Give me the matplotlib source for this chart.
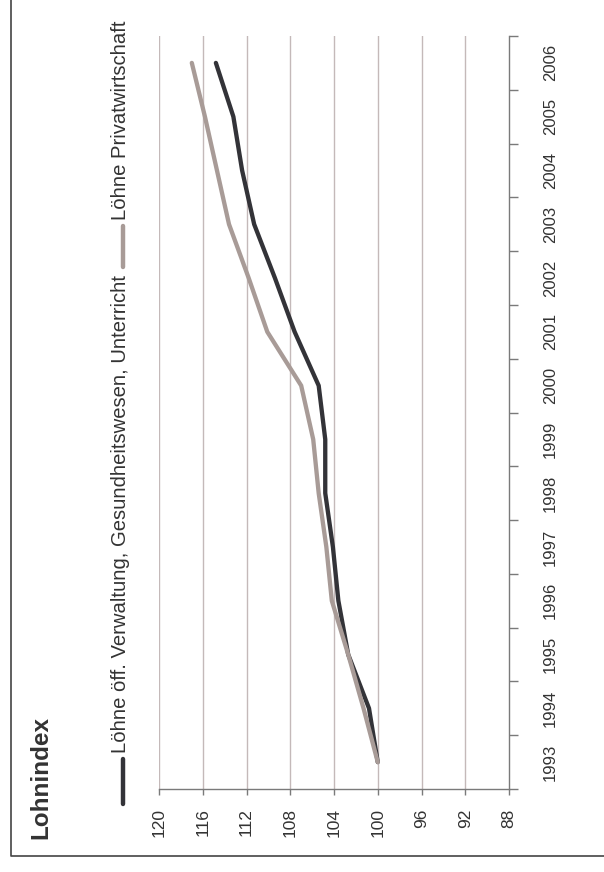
import matplotlib
matplotlib.use("Agg")
import matplotlib.pyplot as plt
import numpy as np
from matplotlib.lines import Line2D
from matplotlib.ticker import FixedLocator, NullFormatter

# Wage index, 1993 = 100
years = [1993, 1994, 1995, 1996, 1997, 1998, 1999,
         2000, 2001, 2002, 2003, 2004, 2005, 2006]
oeff = [100.0, 100.8, 102.7, 103.6, 104.1, 104.8, 104.8,
        105.4, 107.6, 109.4, 111.3, 112.4, 113.2, 114.8]
privat = [100.0, 101.3, 102.7, 104.2, 104.7, 105.4, 105.9,
          107.0, 110.1, 111.8, 113.6, 114.7, 115.8, 117.0]
value_ticks = [120, 116, 112, 108, 104, 100, 96, 92, 88]

title = "Lohnindex"
label_oeff = "Löhne öff. Verwaltung, Gesundheitswesen, Unterricht"
label_privat = "Löhne Privatwirtschaft"

DARK = "#333338"
GREY = "#a89b97"
GRID = "#c4b9b9"
AXIS = "#7a7a7a"
TEXT = "#333333"

W, H = 604, 872
plt.rcParams["font.family"] = ["Liberation Sans", "DejaVu Sans"]

fig = plt.figure(figsize=(W / 100, H / 100), dpi=100)


def fx(px):
    return px / W


def fy(py):
    return 1 - py / H


# Chart laid out on its side: index runs right-to-left, years bottom-to-top
ax = fig.add_axes([fx(159), fy(789), fx(509) - fx(159), fy(36) - fy(789)])
pos = np.arange(len(years))
ax.plot(oeff, pos, color=DARK, lw=3.1, solid_capstyle="round",
        solid_joinstyle="miter", zorder=3)
ax.plot(privat, pos, color=GREY, lw=3.1, solid_capstyle="round",
        solid_joinstyle="miter", zorder=4)

ax.set_xlim(120, 88)
ax.set_ylim(-0.5, len(years) - 0.5)

for s in ("left", "top"):
    ax.spines[s].set_visible(False)
for s in ("bottom", "right"):
    ax.spines[s].set_color(AXIS)
    ax.spines[s].set_linewidth(1.0)

ax.set_xticks(value_ticks)
ax.set_xticklabels([str(v) for v in value_ticks], rotation=90,
                   fontsize=12.5, color=TEXT)
ax.tick_params(axis="x", direction="out", length=4.5, width=1.0,
               color=AXIS, pad=9.5)
for v in value_ticks[:-1]:
    ax.axvline(v, color=GRID, lw=1.0, zorder=1)

ax.yaxis.tick_right()
ax.yaxis.set_major_locator(FixedLocator(pos))
ax.set_yticklabels([str(y) for y in years], rotation=90, va="center",
                   fontsize=12, color=TEXT)
ax.yaxis.set_minor_locator(FixedLocator(np.arange(-0.5, len(years), 1.0)))
ax.yaxis.set_minor_formatter(NullFormatter())
ax.tick_params(axis="y", which="major", length=0, pad=24.5)
ax.tick_params(axis="y", which="minor", direction="out", length=6.5,
               width=1.0, color=AXIS, right=True, left=False)

# Legend, drawn reading upwards along the left side
fig.add_artist(Line2D([fx(122.5), fx(122.5)], [fy(804), fy(759)],
                      color=DARK, lw=3.2, solid_capstyle="round"))
fig.text(fx(121), fy(753), label_oeff, rotation=90, rotation_mode="anchor",
         ha="left", va="center", fontsize=14.6, color=TEXT)
fig.add_artist(Line2D([fx(122.5), fx(122.5)], [fy(267), fy(226)],
                      color=GREY, lw=3.2, solid_capstyle="round"))
fig.text(fx(121), fy(220), label_privat, rotation=90, rotation_mode="anchor",
         ha="left", va="center", fontsize=14.6, color=TEXT)

# Title
fig.text(fx(41), fy(839), title, rotation=90, rotation_mode="anchor",
         ha="left", va="center", fontsize=17.5, fontweight="bold", color=TEXT)

# Outer frame (left and bottom edges)
fig.add_artist(Line2D([fx(11), fx(11), 1.0], [1.0, fy(856), fy(856)],
                      color="#444444", lw=1.2))

fig.savefig("out.png", dpi=100)
